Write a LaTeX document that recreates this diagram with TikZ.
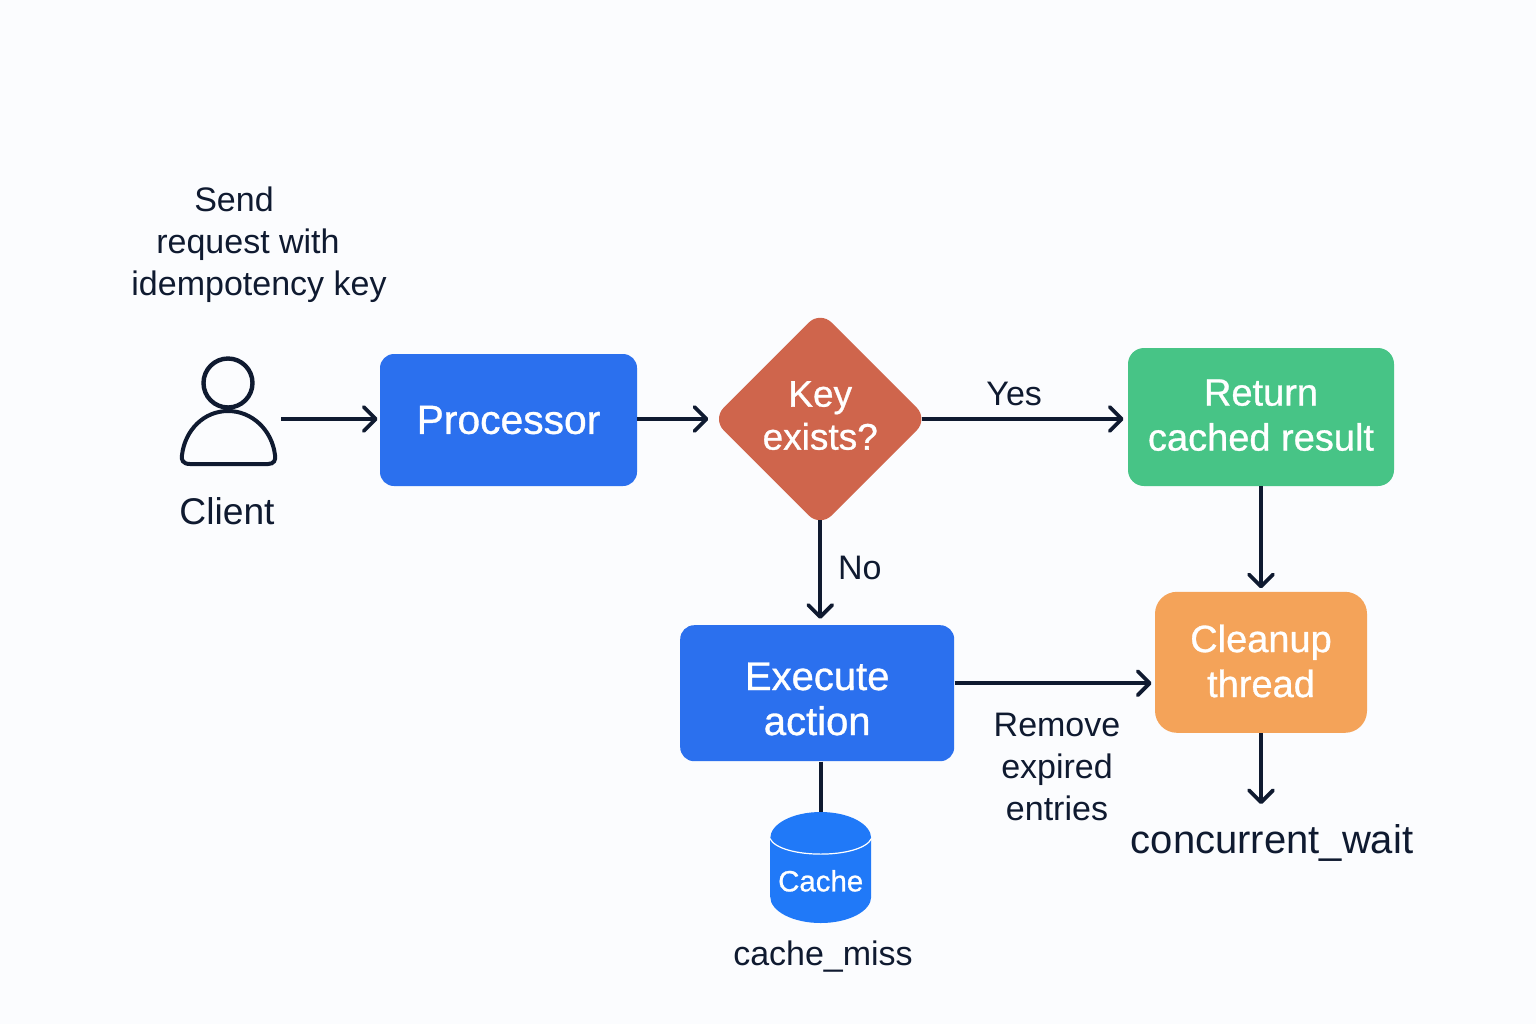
\documentclass[tikz,border=0pt]{standalone}
\usepackage{fontspec}
\setmainfont{Liberation Sans}
\newfontfamily\boxfont[FakeBold=0.8]{Liberation Sans}
\usepackage{tikz}
\usetikzlibrary{positioning}
\usetikzlibrary{shapes.geometric,arrows.meta}
\definecolor{pagebg}{HTML}{FBFCFE}
\definecolor{ink}{HTML}{0F1A30}
\definecolor{blueblock}{HTML}{2B70EE}
\definecolor{cacheblue}{HTML}{2079F8}
\definecolor{keyred}{HTML}{CF654C}
\definecolor{resultgreen}{HTML}{47C486}
\definecolor{cleanorange}{HTML}{F4A359}
\tikzstyle{block} = [rectangle, fill=blueblock, text=white, align=center, 
    font=\boxfont\fontsize{19}{22.5}\selectfont, rounded corners=7pt, inner sep=0pt]
\tikzstyle{decision} = [diamond, fill=keyred, text=white, align=center, inner sep=0pt,
    font=\boxfont\fontsize{18.5}{21.5}\selectfont, rounded corners=8pt, minimum width=108pt, minimum height=108pt]
\tikzstyle{store} = [cylinder, shape border rotate=90, aspect=.62, fill=cacheblue, text=white, inner sep=0pt,
    font=\boxfont\fontsize{14.7}{17}\selectfont, minimum width=50.5pt, minimum height=55.5pt]
\tikzstyle{caption} = [text=ink, align=center, inner sep=0pt, font=\fontsize{17}{21}\selectfont]
\tikzstyle{line} = [draw=ink, line width=1.9pt, -{Straight Barb[length=6pt,width=12pt,line width=1.9pt,round]}]
\tikzstyle{plainline} = [draw=ink, line width=1.9pt]
\begin{document}
\begin{tikzpicture}[x=0.5pt, y=-0.5pt]
        \useasboundingbox [fill=pagebg] (0,0) rectangle (1536,1024);
        % client figure
        \node [circle, draw=ink, line width=2.2pt, minimum size=24.5pt, inner sep=0pt] (head) at (228,383) {};
        \draw [ink, line width=2pt] (190,464) -- (268,464) .. controls (274,464) and (276,460) .. (275,455)
            .. controls (272,430) and (252,411) .. (228,411) .. controls (204,411) and (185,430) .. (182,455)
            .. controls (181,460) and (183,464) .. (190,464) -- cycle;
        \coordinate (clientout) at (281,419);
        % nodes
        \node [block, minimum width=128.5pt, minimum height=66pt, font=\boxfont\fontsize{20.4}{22.5}\selectfont] (proc) at (508.5,420) {Processor};
        \node [decision, right=37.2pt of proc, yshift=.5pt] (key) {\raisebox{3.6pt}{Key}\\\raisebox{3.6pt}{exists?}};
        \node [block, fill=resultgreen, rounded corners=8pt, minimum width=133pt, minimum height=69pt,
            right=99.5pt of key, yshift=1pt] (result) {\raisebox{2pt}{Return}\\\raisebox{2pt}{cached result}};
        \node [block, fill=cleanorange, rounded corners=11pt, minimum width=106pt, minimum height=70.5pt,
            below=52.5pt of result] (clean) {\raisebox{1.5pt}{Cleanup}\\\raisebox{1.5pt}{thread}};
        \node [block, minimum width=137pt, minimum height=68pt, below=48.7pt of key, xshift=-1.5pt, font=\boxfont\fontsize{20}{22.5}\selectfont] (exec) {\rule{0pt}{19.5pt}Execute\\action};
        \node [store, below=25pt of exec, xshift=1.75pt] (cache) {Cache};
        \coordinate [below=35.5pt of clean] (waitin);
        % captions
        \node [caption] (send) at (248,245) {Send\hspace*{14pt}\\request with\\\hspace*{11pt}idempotency key};
        \node [caption, font=\fontsize{18.6}{21}\selectfont] (client) at (227,511) {Client};
        \node [caption] (expired) at (1057,767) {Remove\\expired\\entries};
        \node [caption, font=\fontsize{20}{21}\selectfont] (wait) at (1272,843) {concurrent\_wait};
        \node [caption] (miss) at (823,957) {cache\_miss};
        % edges
        \path [line, shorten >=1pt] (clientout) -- (clientout -| proc.west);
        \path [line, shorten >=1.7pt] (proc.east |- key) -- (key);
        \path [line, shorten <=-3.5pt, shorten >=2pt] (key.east) --node[caption, above=5.5pt, pos=.43]{Yes}(key.east -| result.west);
        \path [line, shorten <=-3.5pt, shorten >=3pt] (key.south) --node[caption, right=8pt, pos=.42]{No}(key.south |- exec.north);
        \path [line, shorten >=1.5pt] (result.south -| clean) -- (clean.north);
        \path [line, shorten >=1.5pt] ([yshift=5pt]exec.east) -- ([yshift=5pt]exec.east -| clean.west);
        \path [line] (clean.south) -- (waitin);
        \path [plainline] (exec.south -| cache.north) -- (cache.north);
        % cache lid
        \draw [white, line width=0.6pt] (cache.before top) .. controls +(10,21) and +(-10,21) .. (cache.after top);
    \end{tikzpicture}
\end{document}
